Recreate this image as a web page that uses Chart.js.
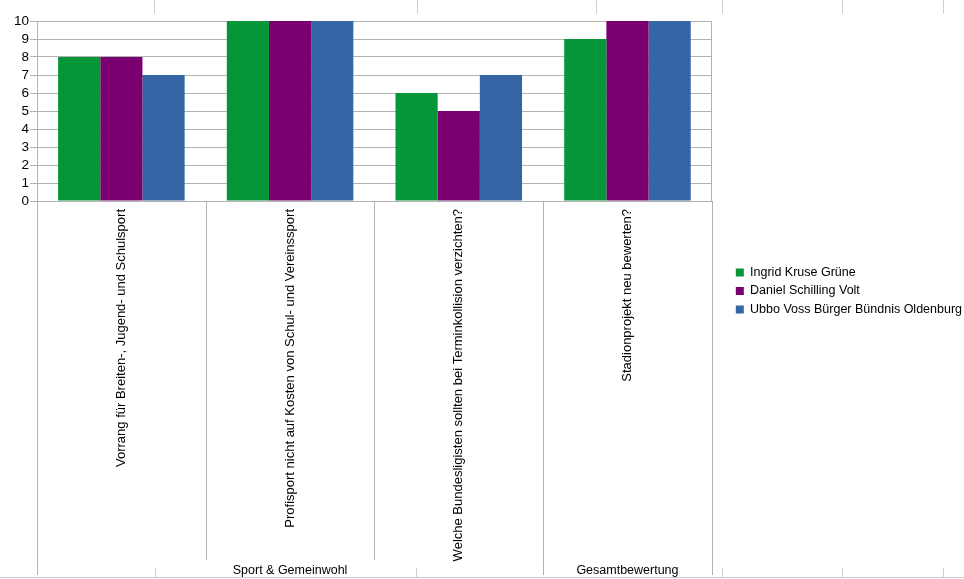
<!DOCTYPE html>
<html><head><meta charset="utf-8">
<script src="https://cdn.jsdelivr.net/npm/chart.js@4.4.0/dist/chart.umd.min.js"></script>
<style>html,body{margin:0;padding:0;background:#fff;} #wrap{width:964px;height:579px;position:relative;}</style>
</head><body><div id="wrap"><canvas id="c"></canvas></div>
<script>
const categories = [
  'Vorrang für Breiten-, Jugend- und Schulsport',
  'Profisport nicht auf Kosten von Schul- und Vereinssport',
  'Welche Bundesligisten sollten bei Terminkollision verzichten?',
  'Stadionprojekt neu bewerten?'
];
const groupLabels = ['Sport & Gemeinwohl', 'Gesamtbewertung'];
const groupSpans = [3, 1];
const seriesNames = ['Ingrid Kruse Grüne', 'Daniel Schilling Volt', 'Ubbo Voss Bürger Bündnis Oldenburg'];
const ingridValues = [8, 10, 6, 9];
const danielValues = [8, 10, 5, 10];
const ubboValues = [7, 10, 7, 10];
const yMin = 0, yMax = 10, yStep = 1;
const seriesColors = ['#06963a', '#7a0070', '#3465a4'];

const FONT = "'Liberation Sans', Arial, sans-serif";
Chart.defaults.font.family = FONT;

const sheetDecor = {
  id: 'sheetDecor',
  beforeDraw(chart) {
    const ctx = chart.ctx;
    ctx.save();
    ctx.strokeStyle = '#cfcfcf';
    ctx.lineWidth = 1;
    ctx.beginPath();
    ctx.moveTo(0, 577.5); ctx.lineTo(chart.width, 577.5);
    [154, 417, 596, 722, 842, 943].forEach(px => { ctx.moveTo(px + 0.5, 0); ctx.lineTo(px + 0.5, 14); });
    [155, 416, 722, 842, 943].forEach(px => { ctx.moveTo(px + 0.5, 568); ctx.lineTo(px + 0.5, 577); });
    ctx.stroke();
    ctx.restore();
  }
};

const axisDecor = {
  id: 'axisDecor',
  afterDraw(chart) {
    const x = chart.scales.x;
    const ctx = chart.ctx;
    const n = categories.length;
    const step = x.width / n;
    const top = x.top;
    const edges = [0];
    let acc = 0;
    groupSpans.forEach(s => { acc += s; edges.push(acc); });
    ctx.save();
    ctx.strokeStyle = '#b3b3b3';
    ctx.lineWidth = 1;
    ctx.beginPath();
    for (let i = 0; i <= n; i++) {
      const px = Math.round(x.getPixelForValue(0) - step / 2 + i * step) + 0.5;
      const end = edges.includes(i) ? top + 374 : top + 359;
      ctx.moveTo(px, top);
      ctx.lineTo(px, end);
    }
    ctx.stroke();
    ctx.fillStyle = '#000';
    ctx.font = '12.5px ' + FONT;
    ctx.textAlign = 'center';
    ctx.textBaseline = 'middle';
    let start = 0;
    groupLabels.forEach((g, k) => {
      const a = x.getPixelForValue(start) - step / 2;
      const b = x.getPixelForValue(start + groupSpans[k] - 1) + step / 2;
      ctx.fillText(g, (a + b) / 2, top + 370);
      start += groupSpans[k];
    });
    ctx.restore();
  }
};

new Chart(document.getElementById('c'), {
  type: 'bar',
  data: {
    labels: categories,
    datasets: [
      { label: seriesNames[0], data: ingridValues, backgroundColor: seriesColors[0], borderWidth: 0 },
      { label: seriesNames[1], data: danielValues, backgroundColor: seriesColors[1], borderWidth: 0 },
      { label: seriesNames[2], data: ubboValues, backgroundColor: seriesColors[2], borderWidth: 0 }
    ]
  },
  options: {
    responsive: true,
    maintainAspectRatio: false,
    devicePixelRatio: 1,
    animation: false,
    datasets: { bar: { categoryPercentage: 0.75, barPercentage: 1.0 } },
    layout: { padding: { top: 3, bottom: 0, left: 0, right: -8 } },
    plugins: {
      tooltip: { enabled: false },
      title: {
        display: true, text: ' ', fullSize: false, position: 'top',
        padding: 0, font: { size: 12, lineHeight: 1.5 }
      },
      legend: {
        position: 'right',
        maxWidth: 260,
        labels: {
          boxWidth: 8, boxHeight: 8, padding: 6,
          color: '#000',
          font: { size: 12.5, family: FONT }
        }
      }
    },
    scales: {
      x: {
        type: 'category',
        offset: true,
        grid: { display: false },
        border: { display: false },
        ticks: {
          autoSkip: false, minRotation: 90, maxRotation: 90, padding: 0,
          color: '#000', font: { size: 13, family: FONT }
        },
        afterFit(scale) { scale.height = 378; }
      },
      y: {
        min: yMin, max: yMax,
        ticks: { stepSize: yStep, autoSkip: false, padding: 1, color: '#000', font: { size: 13.5, family: FONT } },
        grid: { color: '#b3b3b3', lineWidth: 1, tickLength: 7 },
        border: { display: true, color: '#b3b3b3' },
        afterFit(scale) { scale.width = 37; }
      },
      y2: {
        position: 'right',
        min: yMin, max: yMax,
        ticks: { display: false },
        grid: { drawOnChartArea: false, drawTicks: false },
        border: { display: true, color: '#b3b3b3' },
        afterFit(scale) { scale.width = 18; }
      }
    }
  },
  plugins: [sheetDecor, axisDecor]
});
</script>
</body></html>
